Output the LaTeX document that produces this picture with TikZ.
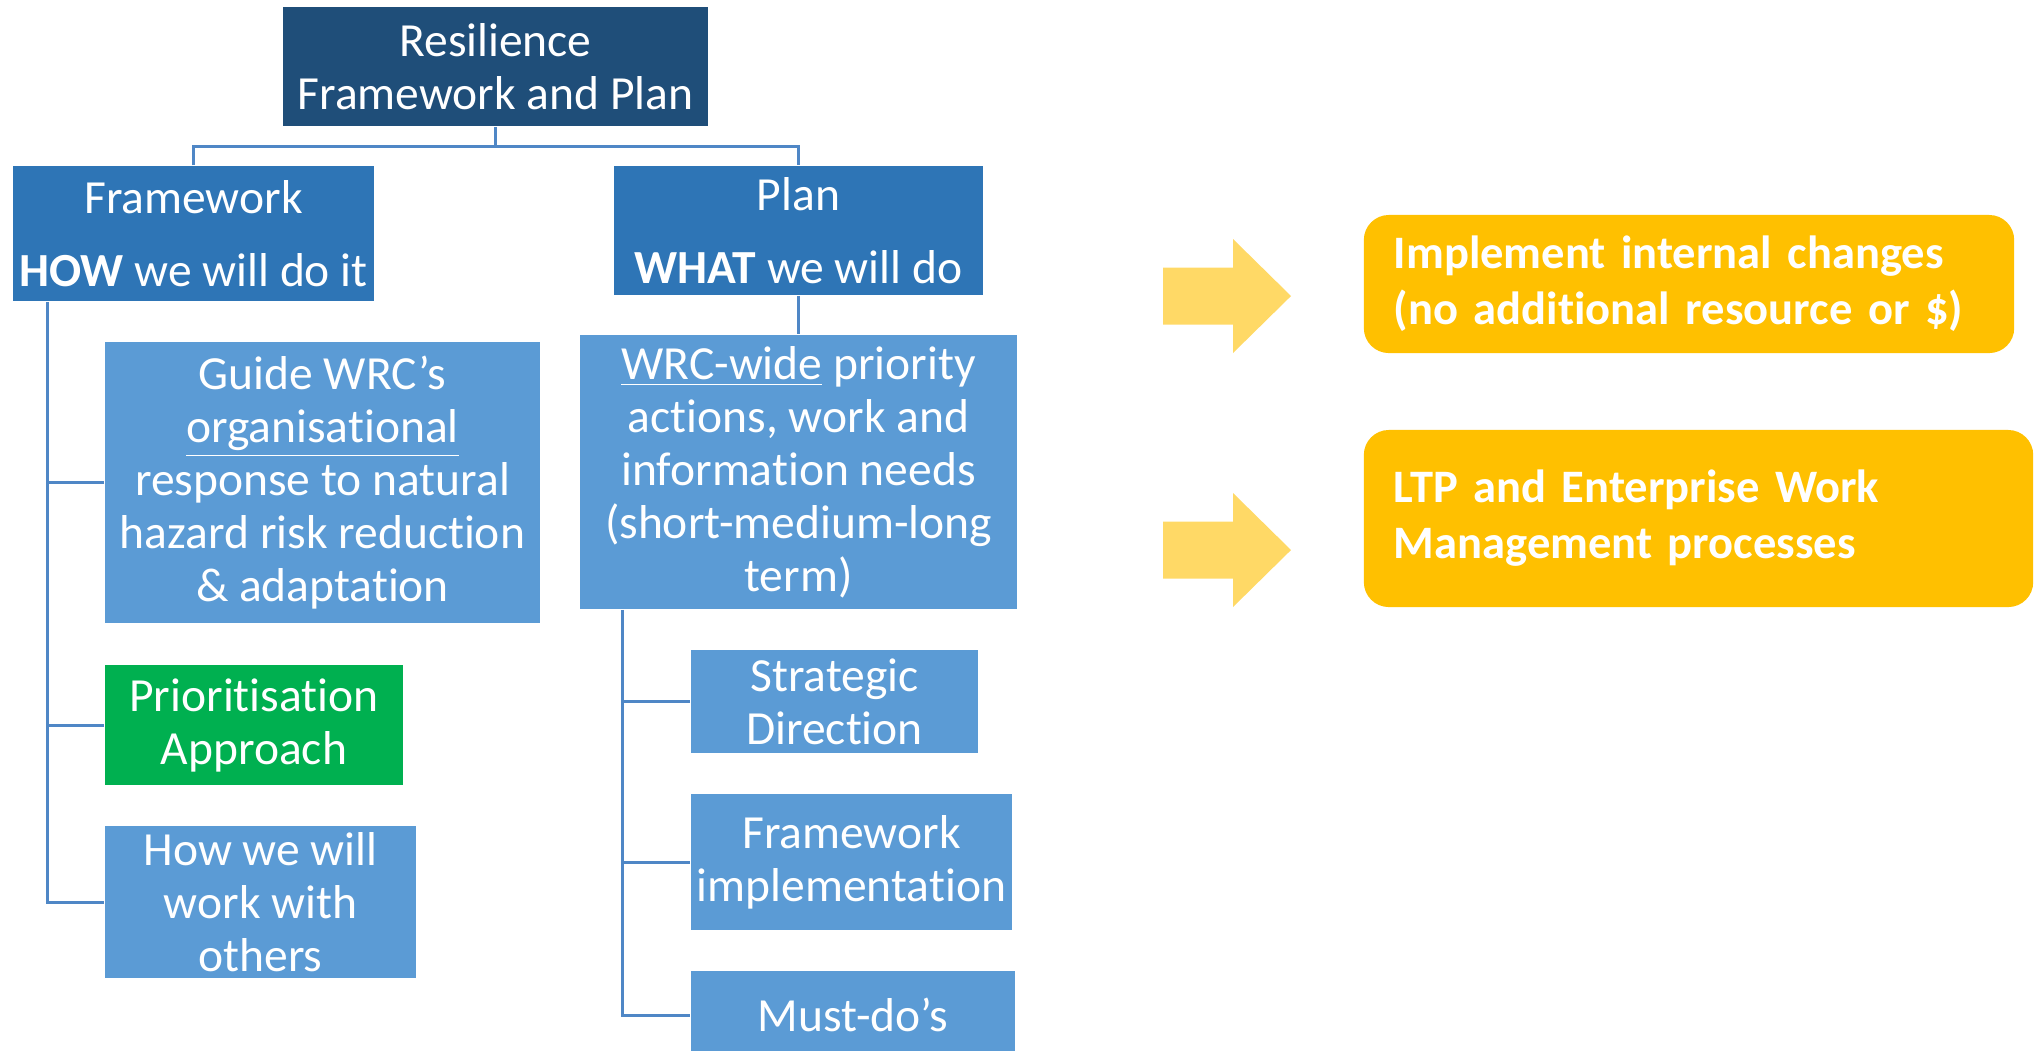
\documentclass[tikz,border=0pt]{standalone}
\usepackage{fontspec}
\setmainfont{Carlito}[Ligatures=CommonOff]

\definecolor{navybox}{HTML}{1F4E79}
\definecolor{midbox}{HTML}{2E75B6}
\definecolor{lightbox}{HTML}{5B9BD5}
\definecolor{greenbox}{HTML}{00B050}
\definecolor{goldbox}{HTML}{FFC000}
\definecolor{goldarrow}{HTML}{FFD966}
\definecolor{linkblue}{HTML}{4F87C6}

\begin{document}
\begin{tikzpicture}[x=0.01cm, y=-0.01cm,
    box/.style={rectangle, inner sep=0pt, text=white, align=center,
        font=\fontsize{0.475cm}{0.53cm}\selectfont},
    navy/.style={box, fill=navybox},
    mid/.style={box, fill=midbox},
    light/.style={box, fill=lightbox},
    greenbx/.style={box, fill=greenbox},
    goldbx/.style={rectangle, rounded corners=0.25cm, fill=goldbox, text=white,
        align=left, inner xsep=0.3cm, inner ysep=0pt,
        font=\bfseries\fontsize{0.465cm}{0.56cm}\selectfont},
    link/.style={draw=linkblue, line width=0.03cm}]

    \useasboundingbox (0,0) rectangle (2034,1050);

    % top level
    \node[navy, minimum width=4.25cm, minimum height=1.19cm] (top) at (495.5,66.5) {Resilience\\Framework and Plan};
    \node[mid, minimum width=3.61cm, minimum height=1.35cm] (framework) at (193.5,233.5) {Framework\\[0.2cm]\textbf{HOW} we will do it};
    \node[mid, minimum width=3.69cm, minimum height=1.29cm] (plan) at (798.5,230.5) {Plan\\[0.2cm]\textbf{WHAT} we will do};

    % framework children
    \node[light, minimum width=4.35cm, minimum height=2.81cm] (guide) at (322.5,482.5) {Guide WRC’s\\\underline{organisational}\\response to natural\\hazard risk reduction\\\& adaptation};
    \node[greenbx, minimum width=2.98cm, minimum height=1.20cm] (prio) at (254,725) {Prioritisation\\Approach};
    \node[light, minimum width=3.11cm, minimum height=1.52cm] (others) at (260.5,902) {How we will\\work with\\others};

    % plan children
    \node[light, minimum width=4.37cm, minimum height=2.74cm] (wide) at (798.5,472) {\underline{WRC-wide} priority\\actions, work and\\information needs\\(short-medium-long\\term)};
    \node[light, minimum width=2.87cm, minimum height=1.03cm] (strategic) at (834.5,701.5) {Strategic\\Direction};
    \node[light, minimum width=3.21cm, minimum height=1.36cm] (impl) at (851.5,862) {Framework\\implementation};
    \node[light, minimum width=3.24cm, minimum height=0.88cm] (mustdo) at (853,1015) {Must-do’s};

    % tree connectors
    \draw[link] (top.south) -- ++(0,20) coordinate (split);
    \draw[link] (framework.north) |- (split) -| (plan.north);
    \draw[link] (plan.south) -- (wide.north);

    \coordinate (ftrunk) at ([xshift=0.35cm]framework.south west);
    \draw[link] (ftrunk) |- (others.west);
    \foreach \n in {guide, prio}
        \draw[link] (\n.west) -- (\n.west -| ftrunk);

    \coordinate (ptrunk) at ([xshift=0.43cm]wide.south west);
    \draw[link] (ptrunk) |- (mustdo.west);
    \foreach \n in {strategic, impl}
        \draw[link] (\n.west) -- (\n.west -| ptrunk);

    % block arrows
    \foreach \y in {296, 550}
        \fill[goldarrow] (1163,\y-28.5) -- (1233,\y-28.5) -- (1233,\y-57) -- (1291,\y)
            -- (1233,\y+57) -- (1233,\y+28.5) -- (1163,\y+28.5) -- cycle;

    % outcomes
    \node[goldbx, minimum height=1.38cm, text width=5.90cm] (internal) at (1689,284) {Implement internal changes\\(no additional resource or \$)};
    \node[goldbx, minimum height=1.77cm, text width=6.09cm] (ltp) at (1698.5,518.5) {LTP and Enterprise Work\\Management processes};
\end{tikzpicture}
\end{document}
